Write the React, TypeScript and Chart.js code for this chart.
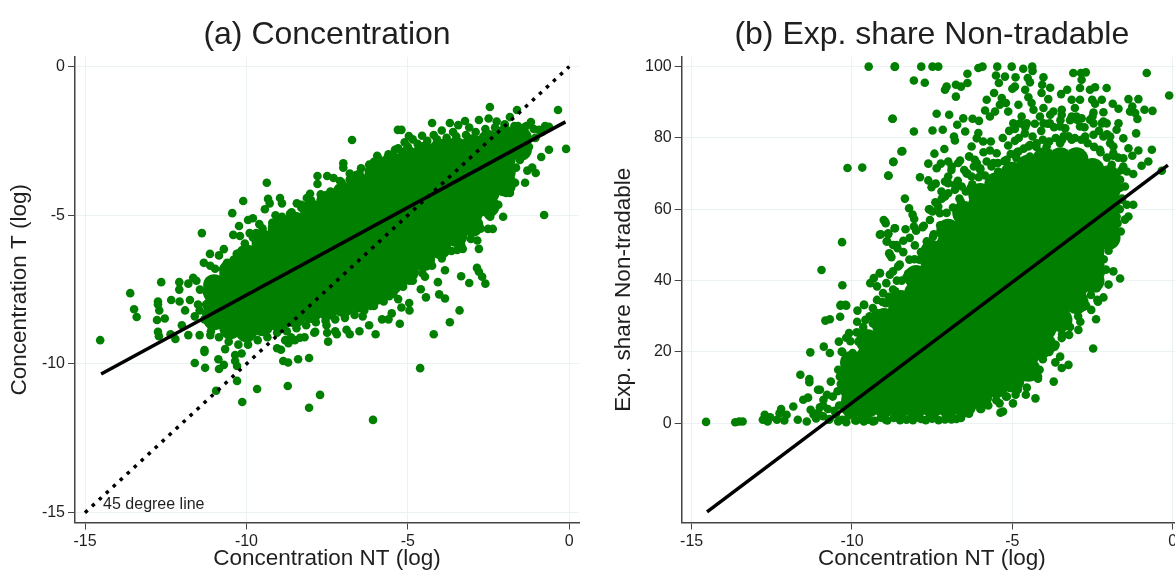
import React, { useEffect, useRef } from "react";
import { Chart, registerables } from "chart.js";
Chart.register(...registerables);

const GREEN = "#007f00";
const xTicks = [-15, -10, -5, 0];
const yTicksA = [0, -5, -10, -15];
const yTicksB = [0, 20, 40, 60, 80, 100];
const fitA = [{ x: -14.5, y: -10.34 }, { x: -0.12, y: -1.86 }];
const diagonal = [{ x: -15, y: -15 }, { x: 0, y: 0 }];
const fitB = [{ x: -14.52, y: -24.8 }, { x: -0.15, y: 72.4 }];

// Panel (a): the solid mass of overplotted observations, one list per x column
const massA: [number, number[]][] = [
  [-11, [-8.5, -8.05, -7.6, -7.35]],
  [-10.5, [-8.8, -8.35, -7.9, -7.45, -7, -6.85]],
  [-10, [-8.9, -8.45, -8, -7.55, -7.1, -6.65, -6.35]],
  [-9.5, [-8.7, -8.25, -7.8, -7.35, -6.9, -6.45, -6, -5.85]],
  [-9, [-8.55, -8.1, -7.65, -7.2, -6.75, -6.3, -5.85, -5.45]],
  [-8.5, [-8.4, -7.95, -7.5, -7.05, -6.6, -6.15, -5.7, -5.25]],
  [-8, [-8.25, -7.8, -7.35, -6.9, -6.45, -6, -5.55, -5.1, -4.85]],
  [-7.5, [-8.15, -7.7, -7.25, -6.8, -6.35, -5.9, -5.45, -5, -4.55]],
  [-7, [-8.05, -7.6, -7.15, -6.7, -6.25, -5.8, -5.35, -4.9, -4.45, -4.25]],
  [-6.5, [-7.9, -7.45, -7, -6.55, -6.1, -5.65, -5.2, -4.75, -4.3, -3.95]],
  [-6, [-7.65, -7.2, -6.75, -6.3, -5.85, -5.4, -4.95, -4.5, -4.05, -3.55]],
  [-5.5, [-7.3, -6.85, -6.4, -5.95, -5.5, -5.05, -4.6, -4.15, -3.7, -3.25]],
  [-5, [-6.9, -6.45, -6, -5.55, -5.1, -4.65, -4.2, -3.75, -3.3, -3.05]],
  [-4.5, [-6.5, -6.05, -5.6, -5.15, -4.7, -4.25, -3.8, -3.35, -2.9]],
  [-4, [-6.1, -5.65, -5.2, -4.75, -4.3, -3.85, -3.4, -2.95, -2.8]],
  [-3.5, [-5.7, -5.25, -4.8, -4.35, -3.9, -3.45, -3, -2.75]],
  [-3, [-5.35, -4.9, -4.45, -4, -3.55, -3.1, -2.65]],
  [-2.5, [-4.7, -4.25, -3.8, -3.35, -2.9, -2.5]],
  [-2, [-4, -3.55, -3.1, -2.65, -2.35]],
  [-1.5, [-2.8, -2.4]],
];

// Panel (a): observations along the edge of the mass
const edgeA: number[][] = [
  [-10.85,-7.2],[-10.6,-6.6],[-10.3,-6.3],[-10.05,-5.95],[-9.8,-5.75],[-9.5,-5.45],[-9.2,-5.25],[-8.9,-5.05],[-8.6,-4.9],[-8.3,-4.65],
  [-8,-4.5],[-7.7,-4.3],[-7.4,-4.2],[-7.1,-3.85],[-6.8,-3.8],[-6.5,-3.6],[-6.2,-3.3],[-5.9,-3.1],[-5.6,-2.95],[-5.3,-2.75],
  [-5,-2.7],[-4.7,-2.6],[-4.4,-2.5],[-4.1,-2.45],[-3.8,-2.4],[-3.5,-2.35],[-3.2,-2.3],[-2.9,-2.2],[-2.6,-2.1],[-2.3,-2.05],
  [-2,-1.95],[-1.7,-2],[-1.4,-2.05],[-1.1,-2.1],[-11.1,-8.9],[-10.85,-9.1],[-10.55,-9.25],[-10.25,-9.35],[-9.95,-9.35],[-9.65,-9.2],
  [-9.35,-9.1],[-9.05,-8.95],[-8.75,-8.9],[-8.45,-8.8],[-8.15,-8.7],[-7.85,-8.6],[-7.55,-8.55],[-7.25,-8.5],[-6.95,-8.45],[-6.65,-8.35],
  [-6.35,-8.2],[-6.05,-8.05],[-5.75,-7.9],[-5.45,-7.65],[-5.15,-7.4],[-4.85,-7.2],[-4.55,-6.95],[-4.25,-6.7],[-3.95,-6.45],[-3.65,-6.2],
  [-3.35,-6],[-3.05,-5.8],[-2.75,-5.45],[-2.45,-5.05],[-2.2,-4.65],[-1.95,-4.25],[-1.8,-3.8],[-1.65,-3.4],[-1.45,-3],[-1.25,-2.7],
  [-1.05,-2.4],[-0.85,-2.2],[-11.3,-8.5],[-11.25,-8],[-11.2,-7.6],[-11.05,-7.4],
];

// Panel (a): individually visible observations
const scatterA: number[][] = [
  [-9.37,-3.91],[-10.1,-4.52],[-10.44,-4.93],[-10.23,-5.36],[-11.38,-5.6],[-10.41,-5.66],[-10.2,-5.7],[-10.7,-6.14],[-11.13,-6.3],[-10.85,-6.35],
  [-11.32,-6.6],[-11.12,-6.7],[-10.97,-6.8],[-10.72,-6.8],[-10.4,-6.5],[-10.4,-6.8],[-11.65,-7.1],[-11.55,-7.2],[-11.8,-7.3],[-11.13,-7.2],
  [-12.64,-7.25],[-12.08,-7.25],[-12.08,-7.5],[-13.6,-7.62],[-12.74,-7.9],[-12.33,-7.85],[-12.07,-7.9],[-11.44,-7.5],[-11.25,-7.55],[-10.92,-7.44],
  [-7.8,-3.68],[-7.5,-3.68],[-7.8,-3.95],[-9.33,-4.45],[-8.96,-4.42],[-8.9,-4.6],[-9.28,-4.6],[-9.43,-4.8],[-8.44,-4.6],[-9.95,-5.16],
  [-9.8,-5.1],[-9.6,-5.3],[-9.1,-5],[-8.95,-5.2],[-8.65,-4.95],[-8.13,-4.42],[-8.03,-4.28],[-8.3,-4.75],[-9.9,-5.6],[-9.7,-5.6],
  [-6.73,-2.47],[-2.46,-1.36],[-0.35,-1.46],[-0.1,-2.77],[-0.78,-4.99],[-4.25,-1.9],[-5.31,-2.13],[-5.2,-2.13],[-4.97,-2.34],[-4.56,-2.33],
  [-3.7,-1.9],[-3.44,-1.97],[-3.23,-1.83],[-5.95,-3],[-7,-3.25],[-7,-3.4],[-6.45,-3.42],[-6.05,-3.2],[-5.4,-2.8],[-5.5,-3],
  [-6.8,-3.6],[-6.6,-3.65],[-7.3,-3.75],[-7.05,-3.9],[-5.1,-2.55],[-4.85,-2.45],[-4.2,-2.3],[-3.95,-2.15],[-3.6,-2.2],[-3.1,-2.05],
  [-2.8,-1.8],[-2.5,-1.75],[-2.25,-1.85],[-2,-1.95],[-1.62,-1.46],[-1.84,-1.7],[-1.19,-1.87],[-1.59,-2],[-1.33,-2],[-0.75,-2],
  [-0.94,-2.13],[-0.63,-2.03],[-0.63,-2.8],[-0.87,-3.04],[-1.53,-3.14],[-1.15,-3.4],[-1.3,-3.5],[-1.04,-3.58],[-1.68,-3.91],[-1.37,-3.91],
  [-1.84,-4.25],[-2.05,-5.05],[-2.5,-5],[-2.52,-5.46],[-2.37,-5.46],[-2.8,-6.13],[-2.85,-5.85],[-3.3,-6.13],[-3.47,-6.17],[-2.86,-6.77],
  [-2.8,-6.9],[-2.7,-7.07],[-3.1,-7.28],[-4.07,-7.25],[-3.85,-6.85],[-4.47,-7.07],[-4.6,-7.49],[-4.44,-7.76],[-4.03,-7.66],[-4.96,-7.95],
  [-5.3,-7.82],[-5.58,-7.72],[-5.76,-7.72],[-5.9,-7.45],[-4.95,-7.2],[-5.15,-7.3],
  [-5.2,-8.1],[-5.5,-8.3],[-5.8,-8.5],[-6.2,-8.7],[-6.5,-8.9],[-6.9,-8.85],[-7.2,-9],[-7.5,-8.95],[-7.9,-8.95],[-8.2,-9.1],
  [-8.5,-9.2],[-8.7,-9.3],[-14.53,-9.2],[-13.48,-8.16],[-13.4,-8.42],[-12.77,-8.52],[-12.53,-8.47],[-12.7,-8.2],[-12.74,-8],[-12.74,-8.92],
  [-12.71,-9.07],[-12.35,-9],[-12.2,-9.16],[-11.8,-9.03],[-12,-8.7],[-11.45,-9.03],[-11.12,-9.03],[-11.6,-8.4],[-11.45,-8.2],[-11.3,-9.53],
  [-11.3,-9.6],[-11.6,-9.97],[-11.28,-10.13],[-10.87,-9.84],[-10.66,-9.5],[-10.7,-10.03],[-10.85,-10.17],[-10.35,-9.7],[-10.15,-9.65],[-10.35,-9.9],
  [-10.29,-10.07],[-10.29,-10.57],[-10.94,-10.9],[-10.13,-11.28],[-9.67,-10.84],[-8.72,-10.74],[-7.72,-11.04],[-8.06,-11.47],[-8.06,-9.8],[-8.4,-9.84],
  [-8.86,-9.9],[-8.71,-9.95],[-9.05,-9.47],[-8.93,-9.52],[-8.8,-9.2],[-8.62,-9.1],[-8.34,-9.12],[-7.87,-8.92],[-7.47,-9.25],[-7.52,-8.7],
  [-6.08,-11.88],[-4.62,-10.14],[-6,-9],[-5.6,-8.5],[-6.8,-9],[-7.25,-8.9],[-4.2,-9],[-3.7,-8.6],[-3.4,-8.2],[-2.6,-7.3],
  [-5.25,-8.65],[-4.95,-8.2],[-6.4,-8.4],[-6.15,-8.05],[-3.35,-7.05],[-3.85,-7.8],[-11.9,-8.2],[-11.75,-7.85],[-11.5,-8],[-11.25,-8.3],
];

// Panel (b): the solid mass of overplotted observations, one list per x column
const massB: [number, number[]][] = [
  [-10, [5, 9.5, 14, 17]],
  [-9.5, [5, 9.5, 14, 18.5, 23]],
  [-9, [5, 9.5, 14, 18.5, 23, 27.5, 29]],
  [-8.5, [5, 9.5, 14, 18.5, 23, 27.5, 32, 34]],
  [-8, [5, 9.5, 14, 18.5, 23, 27.5, 32, 36.5, 41]],
  [-7.5, [5, 9.5, 14, 18.5, 23, 27.5, 32, 36.5, 41, 45.5, 48]],
  [-7, [5, 9.5, 14, 18.5, 23, 27.5, 32, 36.5, 41, 45.5, 50, 54]],
  [-6.5, [5, 9.5, 14, 18.5, 23, 27.5, 32, 36.5, 41, 45.5, 50, 54.5, 59]],
  [-6, [7.5, 12, 16.5, 21, 25.5, 30, 34.5, 39, 43.5, 48, 52.5, 57, 61.5, 64]],
  [-5.5, [10.5, 15, 19.5, 24, 28.5, 33, 37.5, 42, 46.5, 51, 55.5, 60, 64.5, 67]],
  [-5, [12, 16.5, 21, 25.5, 30, 34.5, 39, 43.5, 48, 52.5, 57, 61.5, 66, 70]],
  [-4.5, [15, 19.5, 24, 28.5, 33, 37.5, 42, 46.5, 51, 55.5, 60, 64.5, 69, 72]],
  [-4, [22, 26.5, 31, 35.5, 40, 44.5, 49, 53.5, 58, 62.5, 67, 71.5, 74]],
  [-3.5, [29, 33.5, 38, 42.5, 47, 51.5, 56, 60.5, 65, 69.5, 74]],
  [-3, [34, 38.5, 43, 47.5, 52, 56.5, 61, 65.5, 70, 74]],
  [-2.5, [40, 44.5, 49, 53.5, 58, 62.5, 67, 71]],
  [-2, [52, 56.5, 61, 65.5, 69]],
];

// Panel (b): observations along the edge of the mass
const edgeB: number[][] = [
  [-10.3,20],[-10.05,23],[-9.85,25.5],[-9.65,27],[-9.45,30],[-9.25,31],[-9.05,34],[-8.85,35.5],[-8.65,37],[-8.45,40],
  [-8.25,42],[-8.05,46],[-7.85,48],[-7.65,50.5],[-7.45,53],[-7.25,55.5],[-7.05,59],[-6.85,60.5],[-6.65,63],[-6.45,65],
  [-6.25,67],[-6.05,69],[-5.85,69.5],[-5.65,72],[-5.45,73],[-5.25,73.5],[-5.05,75.5],[-4.85,76],[-4.65,77],[-4.45,78],
  [-4.25,77.5],[-4.05,79.5],[-3.85,79],[-3.65,80],[-3.45,79.5],[-3.25,80.5],[-3.05,80],[-2.85,79.5],[-2.65,78.5],[-2.45,77.5],
  [-2.25,76],[-2.05,74.5],[-1.9,72.5],[-1.75,70],[-1.65,66],[-1.58,63],[-1.65,60],[-1.72,56],[-1.85,54],[-2.05,50],
  [-2.15,46],[-2.25,42],[-2.4,39],[-2.55,36],[-2.7,33],[-2.95,30],[-3.2,27],[-3.45,25],[-3.65,22],[-3.85,20],
  [-4.05,18],[-4.15,15],[-4.2,12.5],[-4.55,10],[-4.9,8],[-5.2,7.5],[-5.5,6.5],[-5.75,5],[-6,4],[-6.35,2.7],
  [-6.6,1.5],[-10.9,2],[-10.7,1.2],[-10.5,2.5],[-10.3,1],[-10.1,2.2],[-9.9,0.8],[-9.7,1.8],[-9.5,1],[-9.3,0.7],
  [-9.1,1.6],[-8.9,0.8],[-8.7,1.5],[-8.5,0.9],[-8.3,1],[-8.1,0.9],[-7.9,1.5],[-7.7,0.9],[-7.5,1.3],[-7.3,0.9],
  [-7.1,1.1],[-6.9,1.1],[-11.05,3],[-10.9,5],[-10.75,4],[-10.6,7.5],[-10.45,9],[-10.35,11],[-10.25,13],[-10.15,15],
  [-10.4,5],[-10.2,7],[-10.1,10.5],[-8.4,48],[-8.2,52],[-8,54],[-7.8,55],[-7.6,60],[-7.4,62],[-7.2,63],
  [-7,64.5],[-6.9,71],[-6.7,68],[-6.5,71],[-6.4,70],[-6.2,72],[-6,71.5],[-5.9,76],[-5.7,76.5],[-5.3,80],
  [-5.1,82],[-4.8,80],[-4.6,83],[-4.3,84],[-4.1,82],[-3.9,84],[-3.7,83],[-3.4,80.5],[-3.2,85],[-3,86],
  [-2.75,83],[-2.5,86],[-2.3,82],[-2.05,81],[-1.85,75],[-1.7,74.5],[-1.6,71],
  [-6.34,74.8],[-6.11,73],[-6,71],[-5.59,73],[-5.44,70.6],[-5.18,73.9],[-4.87,74.3],[-4.45,74.8],[-4.24,73.9],[-6.89,72],
  [-6.69,73],[-6.43,70.1],[-6.27,69.2],[-7,67.3],[-6.79,65.5],[-6.58,66.4],[-7.1,63.6],[-7.36,61.7],[-7.57,59.9],[-7.31,60.8],
  [-3.72,87.4],[-3.46,86.5],[-4.14,86],[-3.83,84.1],[-3.51,83.2],[-3.15,86],[-2.84,85.5],[-2.47,84.1],[-2.21,84.1],[-2.06,84.1],
  [-2.89,83.2],[-2.47,80.9],[-2.16,80.4],[-1.95,78.5],[-1.85,75.7],[-2.27,76.7],[-2.73,80.4],[-3.15,79.5],[-3.51,78.5],[-3.93,77.6],
  [-4.24,78.5],[-4.61,81.3],[-4.55,84.1],[-4.76,84.1],
];

// Panel (b): individually visible observations
const scatterB: number[][] = [
  [-8.66,100],[-7.84,100],[-7.49,100],[-7.31,100],[-6.06,99.6],[-5.93,100],[-5.47,100],[-5.02,100],[-4.66,99.4],[-4.38,100],
  [-4.37,98.8],[-6.4,98],[-5.51,97.5],[-5.23,97.2],[-4.9,97],[-8.07,96.1],[-7.73,95.5],[-5.42,95.4],[-6.4,95.4],[-6.76,94.9],
  [-6.6,94.4],[-7.05,94.4],[-7.1,93.5],[-4.92,94.4],[-5,93.8],[-4.6,93.5],[-4.52,96.8],[-4.45,95.6],[-4.03,97],[-4.07,94.9],
  [-3.82,94.1],[-3.1,98.2],[-2.86,98.2],[-2.71,98.4],[-2.84,96.3],[-0.81,98.2],[-0.11,91.9],[-2.06,94],[-2.42,94.2],[-2.58,93.5],
  [-2.89,94],[-3.29,93.5],[-3.48,92.3],[-4.09,92.6],[-6.76,91.6],[-5.57,92.6],[-5.8,90.7],[-5.33,91.2],[-5.39,89.3],[-5.2,89.8],
  [-4.5,91.4],[-4.4,89.8],[-3.88,90.9],[-3.15,90.7],[-2.89,90.7],[-2.51,90.7],[-2.21,90.7],[-2.42,89.6],[-1.87,89.6],[-1.38,90.9],
  [-1.07,90.9],[-1.69,88.2],[-1.26,88.8],[-1.33,87.4],[-1.17,87],[-0.88,87.9],[-0.63,87.6],[-1.1,85.3],[-1.14,81.3],[-0.65,76.7],
  [-1.07,76.5],[-1.38,77.1],[-1.26,75],[-0.76,73.4],[-0.97,72.2],[-0.34,70.8],[-1.54,74.3],[-1.54,72],[-1.23,69.9],[-1.43,70.6],
  [-2.47,87.1],[-2.16,87.2],[-3.05,88.4],[-3.46,87.9],[-4.03,88.4],[-4.34,87.9],[-4.81,89.3],[-5.13,87.4],[-5.54,87.4],[-5.85,87.7],
  [-5.7,86],[-7.36,86.8],[-6.97,86.5],[-8.73,85.4],[-6.53,85.5],[-6.24,85.4],[-6.04,84.8],[-6.72,83.7],[-8.07,81.8],[-7.49,82.1],
  [-7.17,82.3],[-6.47,81.8],[-6.82,80.4],[-6.79,79.3],[-6.06,81.4],[-6.11,79.9],[-5.67,79],[-5.91,79],[-6.27,77.6],[-8.43,76.3],
  [-7.12,76.9],[-7.43,75.6],[-8.71,73.3],[-8.87,69.5],[-7.62,72.8],[-7.23,72.8],[-7.36,71.5],[-7.88,69],[-7.62,68.1],[-7.39,67.2],
  [-7.52,66.2],[-7,73.4],[-6.63,73.7],[-6.35,74.8],[-6.17,73.9],[-5.8,73.4],[-5.49,75.7],[-4.92,79.2],[-5.13,77.9],[-4.81,76.2],
  [-4.37,80.4],[-4.5,77.6],[-4.97,84.1],[-4.92,82.5],[-4.71,86],[-3.82,86.5],[-3.5,85],[-1.54,79.9],[-1.75,82.3],[-1.85,77.6],
  [-1.95,80.4],[-1.69,84.1],[-2.16,84.6],[-2.58,85.1],[-2.99,85.1],[-3.35,82.7],[-4.03,84.1],[-7,69.2],[-7.1,67.8],[-6.79,66.9],
  [-7.21,65],[-8.35,63],[-8.22,60.3],[-8.11,58.5],[-8.06,57.3],[-7.49,59.4],[-7.26,58.9],[-7.57,57],[-7.76,55.4],[-8.07,55.2],
  [-8.97,56.6],[-8.66,54.7],[-8.33,54.4],[-8.87,53.3],[-9.13,52.9],[-8.9,51],[-8.4,51.2],[-8.61,50],[-8.04,49.9],[-8.82,47.3],
  [-8.21,45.9],[-7.9,45.9],[-8.51,44.5],[-8.82,41.7],[-9.13,42.1],[-7.67,51],[-7.47,52.4],[-6.6,62],[-6.3,66],[-6.7,59],
  [-1.23,61.3],[-1.43,61.3],[-1.59,62.7],[-1.38,58],[-1.49,57.1],[-1.62,53.8],[-1.87,52.7],[-1.75,58],[-1.95,55.2],[-2,48.4],
  [-2.16,51.5],[-2.27,47.7],[-1.64,40.6],[-1.85,42.6],[-2.08,43.1],[-2,38.9],[-2.37,37.9],[-2.16,35.3],[-2.35,34.6],[-2.82,35.6],
  [-1.49,66.4],[-1.64,68.3],[-1.85,69.2],[-2.27,65.5],[-2.37,61.3],[-1.8,64],[-2.48,21],[-2.39,29.2],[-2.54,31.8],[-2.33,34.1],
  [-2.77,32.7],[-2.88,28.5],[-2.94,26.2],[-3.23,24.8],[-3.46,23.9],[-3.25,16.4],[-3.46,15.5],[-3.71,11.7],[-3.66,17.1],[-3.51,18.7],
  [-3.97,19.7],[-3.68,21.5],[-4.28,7],[-4.58,8],[-4.98,5.6],[-5.29,3.3],[-5.37,3],[-5.4,5.6],[-5.17,7.5],[-4.83,9.4],
  [-4.2,13.1],[-4.49,14.5],[-5.46,8.4],[-5.97,4],[-6.49,3.8],[-6.2,5.2],[-6.74,1.2],[-7.06,1.9],[-7.46,1.9],[-7.84,1.2],
  [-8.15,1.9],[-8.95,1],[-9.35,0.5],[-6.95,2.5],[-14.55,0.4],[-13.64,0.3],[-13.52,0.5],[-13.41,0.5],[-12.78,1],[-12.72,2.4],
  [-12.63,0.5],[-12.55,1.7],[-12.34,1],[-12.26,2.8],[-12.21,4],[-12.11,0.8],[-12.04,2.4],[-11.83,4.7],[-11.69,1],[-11.52,6.6],
  [-11.37,7.2],[-11.41,0.5],[-11.29,3.8],[-11.12,1.4],[-11.06,9.4],[-11,9.4],[-10.89,6.6],[-10.78,8],[-10.72,1],[-10.43,0.5],
  [-10.55,3.5],[-10.18,0.3],[-9.86,0.8],[-9.63,0.5],[-11.61,13.6],[-11.33,12.4],[-11.33,11.5],[-11.3,19.9],[-10.88,21.5],[-10.69,19.7],
  [-10.83,28.8],[-10.69,29.2],[-10.37,29.9],[-10.36,33],[-10.18,33],[-10.43,15],[-10.66,11.7],[-10.38,13.1],[-10.41,22.9],[-10.32,20.1],
  [-10.09,25.3],[-10.18,24],[-9.98,19.7],[-10.2,17.3],[-9.9,16],[-9.8,22.9],[-9.84,28.5],[-9.83,31.6],[-9.58,29],[-9.35,28],
  [-9.63,25.7],[-9.4,22.5],[-9.06,20.6],[-9.63,33.2],[-9.35,32.3],[-8.95,33.7],[-8.72,30.4],[-9.06,30.9],[-11.2,2.5],[-11,4.5],
  [-9.48,100],[-8.67,100],[-8.74,85.4],[-10.14,71.6],[-9.68,71.7],[-8.71,73.3],[-8.86,69.4],[-8.46,76.2],[-9.01,57],[-8.95,56.1],
  [-8.67,54.7],[-9.1,53],[-8.87,53],[-10.31,50.8],[-8.92,51],[-8.72,50],[-8.58,49.1],[-8.84,47.7],[-8.77,46.6],[-10.95,43],
  [-8.56,44],[-9.13,42.1],[-9.32,40.7],[-8.72,42.6],[-8.93,39.3],[-9.43,39.3],[-9.22,38.4],[-10.3,38.7],[-9.03,36.5],[-8.72,37.5],
  [-9.22,34.6],[-10.35,33.2],[-10.2,33.2],[-9.62,33.2],[-8.6,40],[-8.4,36],[-8.3,41],[-7.85,43],[-7.4,48.5],[-7.1,55],
];

const FONT = "'Liberation Sans', Arial, sans-serif";
const INK = "#1f1f1f";
const GRID = "#eaf2f3";

const flatten = (mass: [number, number[]][]) =>
  mass.flatMap(([x, ys]) => ys.map((y) => ({ x, y })));
const toPoints = (pairs: number[][]) => pairs.map(([x, y]) => ({ x, y }));

function makeChart(
  canvas: HTMLCanvasElement,
  cfg: {
    title: string; yTitle: string; yTicks: number[]; mass: any[]; points: any[]; massRadius: number;
    lines: any[]; xRange: number[]; yRange: number[]; axisW: number; rightPad: number; yTitlePad: number; note?: boolean;
  }
) {
  const panelText = {
    id: "panelText",
    afterDatasetsDraw(chart: any) {
      const { ctx, scales, chartArea } = chart;
      ctx.save();
      ctx.fillStyle = INK;
      ctx.textBaseline = "middle";
      ctx.textAlign = "center";
      ctx.font = `32px ${FONT}`;
      ctx.fillText(cfg.title, (chartArea.left + chartArea.right) / 2, 35);
      if (cfg.note) {
        ctx.textAlign = "left";
        ctx.font = `16px ${FONT}`;
        ctx.fillText("45 degree line", scales.x.getPixelForValue(-14.44), scales.y.getPixelForValue(-14.72));
      }
      ctx.restore();
    },
  };
  return new Chart(canvas, {
    type: "scatter",
    plugins: [panelText],
    data: {
      datasets: [
        ...cfg.lines,
        { label: "obs", data: cfg.points, order: 5, backgroundColor: GREEN, pointRadius: 4.3, pointBorderWidth: 0 },
        { label: "obs mass", data: cfg.mass, order: 6, backgroundColor: GREEN, pointRadius: cfg.massRadius, pointBorderWidth: 0 },
      ],
    },
    options: {
      animation: false,
      responsive: false,
      layout: { padding: { left: 0, right: cfg.rightPad, top: 57, bottom: 0 } },
      plugins: { legend: { display: false }, tooltip: { enabled: false }, title: { display: false } },
      scales: {
        x: {
          type: "linear",
          min: cfg.xRange[0],
          max: cfg.xRange[1],
          afterBuildTicks: (s: any) => { s.ticks = xTicks.map((value) => ({ value })); },
          afterFit: (s: any) => { s.height = 47.5; },
          ticks: { color: INK, font: { family: FONT, size: 16 }, padding: 2, maxRotation: 0, autoSkip: false, callback: (v: any) => String(v) },
          grid: { color: GRID, lineWidth: 1, tickLength: 7, tickColor: "#444", tickWidth: 1 },
          border: { color: "#444", width: 1.5 },
          title: { display: true, text: "Concentration NT (log)", color: INK, font: { family: FONT, size: 22.5, lineHeight: 1.2 }, padding: { top: 0, bottom: -2 } },
        },
        y: {
          type: "linear",
          min: cfg.yRange[0],
          max: cfg.yRange[1],
          afterBuildTicks: (s: any) => { s.ticks = cfg.yTicks.map((value) => ({ value })); },
          afterFit: (s: any) => { s.width = cfg.axisW; },
          ticks: { color: INK, font: { family: FONT, size: 16 }, padding: 3, autoSkip: false, callback: (v: any) => String(v) },
          grid: { color: GRID, lineWidth: 1, tickLength: 7, tickColor: "#444", tickWidth: 1 },
          border: { color: "#444", width: 1.5 },
          title: { display: true, text: cfg.yTitle, color: INK, font: { family: FONT, size: 22.5, lineHeight: 1.2 }, padding: { top: cfg.yTitlePad, bottom: 0 } },
        },
      },
    } as any,
  });
}

const lineSet = (data: any[], order: number, dash?: number[]) => ({
  data, order, showLine: true, pointRadius: 0, borderColor: "#000", borderWidth: 3.5,
  borderDash: dash ?? [], borderCapStyle: "butt",
});

export default function App() {
  const a = useRef<HTMLCanvasElement>(null);
  const b = useRef<HTMLCanvasElement>(null);
  useEffect(() => {
    const ca = makeChart(a.current!, {
      title: "(a) Concentration", yTitle: "Concentration T (log)", yTicks: yTicksA,
      mass: flatten(massA), points: toPoints([...edgeA, ...scatterA]), massRadius: 11,
      lines: [lineSet(fitA, 0), lineSet(diagonal, 1, [3.5, 6])],
      xRange: [-15.31, 0.3], yRange: [-15.33, 0.32], axisW: 75, rightPad: 75, yTitlePad: 6.5, note: true,
    });
    const cb = makeChart(b.current!, {
      title: "(b) Exp. share Non-tradable", yTitle: "Exp. share Non-tradable", yTicks: yTicksB,
      mass: flatten(massB), points: toPoints([...edgeB, ...scatterB]), massRadius: 12,
      lines: [lineSet(fitB, 0)],
      xRange: [-15.31, 0.29], yRange: [-27.8, 102.7], axisW: 81.7, rightPad: 82, yTitlePad: 10,
    });
    return () => { ca.destroy(); cb.destroy(); };
  }, []);
  return (
    <div style={{ position: "fixed", inset: 0, overflow: "hidden", background: "#fff" }}>
      <canvas ref={a} width={654} height={570} style={{ position: "absolute", left: 0, top: 0 }} />
      <canvas ref={b} width={664} height={570} style={{ position: "absolute", left: 600, top: 0 }} />
    </div>
  );
}
